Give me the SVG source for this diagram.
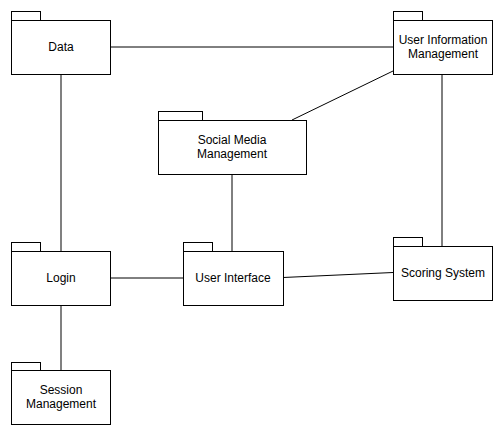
<svg xmlns="http://www.w3.org/2000/svg" width="503" height="435" viewBox="0 0 503 435">
<style>
.b{fill:#fff;stroke:#000;stroke-width:1}
.t{font-family:"Liberation Sans",Arial,Helvetica,sans-serif;font-size:12px;fill:#000;text-anchor:middle}
.c{stroke:#000;stroke-width:1;fill:none}
.g{stroke:#808080;stroke-width:2;fill:none}
</style>
<rect width="503" height="435" fill="#fff"/>
<g id="connectors">
<line class="c" x1="110" y1="47" x2="393" y2="47"/>
<line class="g" x1="61" y1="74" x2="61" y2="251"/>
<line class="c" x1="393" y1="71" x2="292" y2="120"/>
<line class="c" x1="442" y1="74" x2="442" y2="246"/>
<line class="c" x1="232" y1="174" x2="232" y2="251"/>
<line class="c" x1="110" y1="278" x2="183" y2="278"/>
<line class="c" x1="283" y1="277.5" x2="393" y2="272.5"/>
<line class="g" x1="61" y1="305" x2="61" y2="370"/>
</g>
<g id="data">
<rect class="b" x="11.5" y="11.5" width="29" height="9"/>
<rect class="b" x="11.5" y="20.5" width="99" height="54"/>
<text class="t" x="61" y="51">Data</text>
</g>
<g id="uim">
<rect class="b" x="393.5" y="11.5" width="29" height="9"/>
<rect class="b" x="393.5" y="20.5" width="99" height="54"/>
<text class="t" x="443" y="44">User Information</text>
<text class="t" x="443" y="58">Management</text>
</g>
<g id="smm">
<rect class="b" x="158.5" y="111.5" width="44" height="9"/>
<rect class="b" x="158.5" y="120.5" width="148" height="54"/>
<text class="t" x="232" y="144">Social Media</text>
<text class="t" x="232" y="158">Management</text>
</g>
<g id="login">
<rect class="b" x="11.5" y="242.5" width="29" height="9"/>
<rect class="b" x="11.5" y="251.5" width="99" height="54"/>
<text class="t" x="61" y="282">Login</text>
</g>
<g id="ui">
<rect class="b" x="183.5" y="242.5" width="29" height="9"/>
<rect class="b" x="183.5" y="251.5" width="100" height="54"/>
<text class="t" x="233" y="282">User Interface</text>
</g>
<g id="scoring">
<rect class="b" x="393.5" y="237.5" width="29" height="9"/>
<rect class="b" x="393.5" y="246.5" width="99" height="54"/>
<text class="t" x="443" y="277">Scoring System</text>
</g>
<g id="session">
<rect class="b" x="11.5" y="362.5" width="29" height="8"/>
<rect class="b" x="11.5" y="370.5" width="99" height="54"/>
<text class="t" x="61" y="394">Session</text>
<text class="t" x="61" y="408">Management</text>
</g>
</svg>
